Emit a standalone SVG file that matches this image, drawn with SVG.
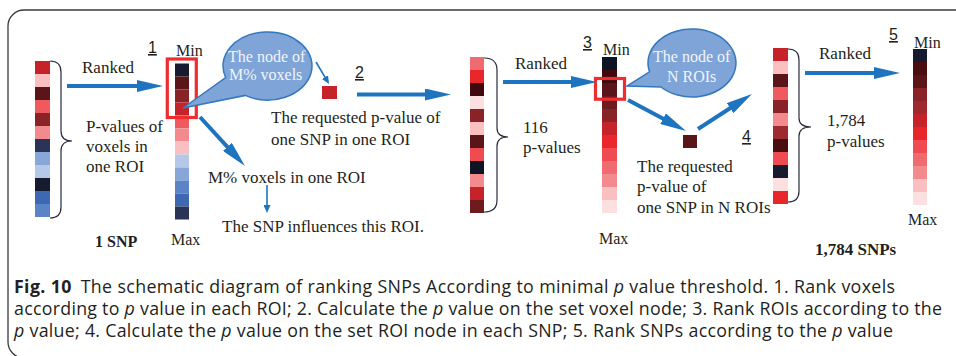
<svg xmlns="http://www.w3.org/2000/svg" width="956" height="356" viewBox="0 0 956 356">
<style>
.t{font-family:"Liberation Serif","Times New Roman",serif;font-size:17px;fill:#231F20}
.m{font-family:"Liberation Serif","Times New Roman",serif;font-size:16px;fill:#231F20}
.b{font-family:"Liberation Serif","Times New Roman",serif;font-size:16px;font-weight:700;fill:#231F20}
.bt{font-family:"Liberation Serif","Times New Roman",serif;font-size:16px;fill:#F2F5FB}
.n{font-family:"Liberation Sans",Arial,sans-serif;font-size:16px;fill:#231F20;text-decoration:underline}
.cap{font-family:"Open Sans","Noto Sans",sans-serif;font-size:17.8px;fill:#231F20}
.thick{stroke:#1F74C0;stroke-width:4;fill:none;marker-end:url(#ah)}
.thin{stroke:#1F74C0;stroke-width:1.6;fill:none;marker-end:url(#ahs)}
.brace{stroke:#2A2A3A;stroke-width:1.2;fill:none}
.bubble{fill:#7FA4D7;stroke:#3478BD;stroke-width:1.5}
.box{fill:none;stroke:#EE2D2F;stroke-width:3.2}
.navy0{fill:#0F1424}.navy{fill:#161B2F}.navy2{fill:#2A3457}
.blue1{fill:#3E69B2}.blue2{fill:#5B83C6}.blue3{fill:#88A6D7}.blue4{fill:#B6C8E8}
.mar0{fill:#3F0A0D}.mar1{fill:#4A0E10}.mar2{fill:#5A1519}.mar3{fill:#6E1B1F}
.dr1{fill:#8A2328}.dr2{fill:#9E2A30}.r1{fill:#C52229}.r2{fill:#E8262B}
.s1{fill:#F04A52}.s2{fill:#EF5A5E}.s3{fill:#F06B6F}
.p1{fill:#F38B8E}.p2{fill:#F9BFC1}.p3{fill:#FCE0E1}
</style>
<defs>
<marker id="ah" markerUnits="userSpaceOnUse" markerWidth="26" markerHeight="12" viewBox="0 0 26 12" refX="4" refY="6" orient="auto"><path d="M0,0 L26,6 L0,12 Z" fill="#1F74C0"/></marker>
<marker id="ahs" markerUnits="userSpaceOnUse" markerWidth="8" markerHeight="7" viewBox="0 0 8 7" refX="2" refY="3.5" orient="auto"><path d="M0,0 L8,3.5 L0,7 Z" fill="#1F74C0"/></marker>
</defs>
<rect x="0" y="0" width="956" height="356" fill="#FFFFFF"/>
<path d="M956,10 H24 A16,16 0 0 0 8,26 V342 A16,16 0 0 0 24,358" fill="none" stroke="#3A3A3A" stroke-width="1.3"/>

<g id="strip-voxels" transform="translate(35,61)">
<rect class="r1" x="0" y="0" width="15" height="13"/><rect class="p2" x="0" y="13" width="15" height="13"/><rect class="mar2" x="0" y="26" width="15" height="13"/><rect class="s2" x="0" y="39" width="15" height="13"/><rect class="dr1" x="0" y="52" width="15" height="13"/><rect class="p1" x="0" y="65" width="15" height="13"/><rect class="navy2" x="0" y="78" width="15" height="13"/><rect class="blue3" x="0" y="91" width="15" height="13"/><rect class="blue4" x="0" y="104" width="15" height="13"/><rect class="navy" x="0" y="117" width="15" height="13"/><rect class="blue1" x="0" y="130" width="15" height="13"/><rect class="blue2" x="0" y="143" width="15" height="13"/>
</g>
<g id="label-voxels">
<path class="brace" d="M50,61 Q61,61 61,72 V131 Q61,141 72,141 Q61,141 61,151 V207 Q61,218 50,218"/>
<text class="t" x="86" y="132">P-values of</text>
<text class="t" x="86" y="152">voxels in</text>
<text class="t" x="86" y="172">one ROI</text>
<text class="t" x="82" y="73">Ranked</text>
<text class="b" x="95" y="247">1 SNP</text>
</g>

<g id="strip-ranked-voxels">
<text class="n" x="148" y="53">1</text>
<text class="m" x="176" y="56">Min</text>
<text class="m" x="171" y="245">Max</text>
<g transform="translate(175,63.5)">
<rect class="navy" x="0" y="0" width="14" height="13"/><rect class="mar2" x="0" y="13" width="14" height="13"/><rect class="dr1" x="0" y="26" width="14" height="13"/><rect class="r1" x="0" y="39" width="14" height="13"/><rect class="s2" x="0" y="52" width="14" height="13"/><rect class="p1" x="0" y="65" width="14" height="13"/><rect class="p2" x="0" y="78" width="14" height="13"/><rect class="blue4" x="0" y="91" width="14" height="13"/><rect class="blue3" x="0" y="104" width="14" height="13"/><rect class="blue2" x="0" y="117" width="14" height="13"/><rect class="blue1" x="0" y="130" width="14" height="13"/><rect class="navy2" x="0" y="143" width="14" height="13"/>
</g>
<rect class="box" x="167.3" y="59" width="29" height="58.5"/>
</g>

<g id="bubble-voxels">
<path class="bubble" d="M225.7,77.6 A44.5,34 0 1 1 245.25,95.4 L183,108 Z"/>
<text class="bt" x="228" y="62">The node of</text>
<text class="bt" x="229" y="80">M% voxels</text>
</g>

<g id="node-roi-pvalue">
<rect class="r1" x="322" y="86" width="15" height="13"/>
<text class="t" x="271" y="123">The requested p-value of</text>
<text class="t" x="271" y="145">one SNP in one ROI</text>
<text class="n" x="355" y="78">2</text>
</g>

<g id="node-m-voxels">
<text class="t" x="208" y="183">M% voxels in one ROI</text>
</g>
<g id="node-influence">
<text class="t" x="222" y="232">The SNP influences this ROI.</text>
</g>

<g id="strip-rois" transform="translate(470,57)">
<rect class="s3" x="0" y="0" width="14" height="13"/><rect class="r2" x="0" y="13" width="14" height="13"/><rect class="mar0" x="0" y="26" width="14" height="13"/><rect class="p3" x="0" y="39" width="14" height="13"/><rect class="dr1" x="0" y="52" width="14" height="13"/><rect class="p2" x="0" y="65" width="14" height="13"/><rect class="mar2" x="0" y="78" width="14" height="13"/><rect class="s1" x="0" y="91" width="14" height="13"/><rect class="navy0" x="0" y="104" width="14" height="13"/><rect class="p1" x="0" y="117" width="14" height="13"/><rect class="r1" x="0" y="130" width="14" height="13"/><rect class="mar3" x="0" y="143" width="14" height="13"/>
</g>
<g id="label-rois">
<path class="brace" d="M484,58 Q497,58 497,70 V128 Q497,137 508,137 Q497,137 497,146 V200 Q497,212 484,212"/>
<text class="t" x="515" y="69">Ranked</text>
<text class="t" x="523" y="133">116</text>
<text class="t" x="523" y="153">p-values</text>
</g>

<g id="strip-ranked-rois">
<text class="n" x="583" y="48">3</text>
<text class="m" x="603" y="55">Min</text>
<text class="m" x="599" y="244">Max</text>
<g transform="translate(602,57)">
<rect class="navy0" x="0" y="0" width="15" height="13"/><rect class="mar0" x="0" y="13" width="15" height="13"/><rect class="mar2" x="0" y="26" width="15" height="13"/><rect class="mar3" x="0" y="39" width="15" height="13"/><rect class="dr1" x="0" y="52" width="15" height="13"/><rect class="r1" x="0" y="65" width="15" height="13"/><rect class="r2" x="0" y="78" width="15" height="13"/><rect class="s1" x="0" y="91" width="15" height="13"/><rect class="s3" x="0" y="104" width="15" height="13"/><rect class="p1" x="0" y="117" width="15" height="13"/><rect class="p2" x="0" y="130" width="15" height="13"/><rect class="p3" x="0" y="143" width="15" height="13"/>
</g>
<rect class="box" x="595.5" y="78.5" width="29" height="20.7"/>
</g>

<g id="bubble-rois">
<path class="bubble" d="M649.5,71.8 A44,34 0 1 1 660.9,87 L627,86 Z"/>
<text class="bt" x="653" y="62">The node of</text>
<text class="bt" x="667" y="82">N ROIs</text>
</g>

<g id="node-snp-pvalue">
<rect class="mar2" x="683" y="135" width="14" height="13"/>
<text class="n" x="742" y="142">4</text>
<text class="t" x="637" y="172">The requested</text>
<text class="t" x="637" y="192">p-value of</text>
<text class="t" x="637" y="213">one SNP in N ROIs</text>
</g>

<g id="strip-snps" transform="translate(773,48)">
<rect class="r1" x="0" y="0" width="15" height="13"/><rect class="p2" x="0" y="13" width="15" height="13"/><rect class="mar2" x="0" y="26" width="15" height="13"/><rect class="s2" x="0" y="39" width="15" height="13"/><rect class="dr1" x="0" y="52" width="15" height="13"/><rect class="p1" x="0" y="65" width="15" height="13"/><rect class="dr2" x="0" y="78" width="15" height="13"/><rect class="mar1" x="0" y="91" width="15" height="13"/><rect class="s1" x="0" y="104" width="15" height="13"/><rect class="navy" x="0" y="117" width="15" height="13"/><rect class="p3" x="0" y="130" width="15" height="13"/><rect class="r2" x="0" y="143" width="15" height="13"/>
</g>
<g id="label-snps">
<path class="brace" d="M788,49 Q799,49 799,60 V118 Q799,127 811,127 Q799,127 799,136 V191 Q799,202 788,202"/>
<text class="t" x="819" y="59">Ranked</text>
<text class="t" x="827" y="126">1,784</text>
<text class="t" x="827" y="147">p-values</text>
<text class="b" x="815" y="255" style="font-size:17px">1,784 SNPs</text>
</g>

<g id="strip-ranked-snps">
<text class="n" x="889" y="40">5</text>
<text class="m" x="914" y="48">Min</text>
<text class="m" x="908" y="225">Max</text>
<g transform="translate(913,49)">
<rect class="navy" x="0" y="0" width="14" height="13"/><rect class="mar1" x="0" y="13" width="14" height="13"/><rect class="mar2" x="0" y="26" width="14" height="13"/><rect class="dr1" x="0" y="39" width="14" height="13"/><rect class="dr2" x="0" y="52" width="14" height="13"/><rect class="r1" x="0" y="65" width="14" height="13"/><rect class="r2" x="0" y="78" width="14" height="13"/><rect class="s1" x="0" y="91" width="14" height="13"/><rect class="s3" x="0" y="104" width="14" height="13"/><rect class="p1" x="0" y="117" width="14" height="13"/><rect class="p2" x="0" y="130" width="14" height="13"/><rect class="p3" x="0" y="143" width="14" height="13"/>
</g>
</g>

<g id="connectors">
<line class="thick" x1="67" y1="86" x2="141" y2="86"/>
<line class="thick" x1="200" y1="117" x2="230.1" y2="149.8"/>
<line class="thin" x1="316" y1="62" x2="326" y2="78.8"/>
<line class="thin" x1="267" y1="185" x2="267" y2="207"/>
<line class="thick" x1="357" y1="94.5" x2="429" y2="94.5"/>
<line class="thick" x1="503" y1="82" x2="575" y2="82"/>
<line class="thick" x1="628" y1="100" x2="666.6" y2="120.6"/>
<line class="thick" x1="698" y1="129" x2="733.5" y2="106"/>
<line class="thick" x1="805" y1="73" x2="878" y2="73"/>
</g>

<g id="caption">
<text class="cap" x="14" y="293" textLength="881"><tspan font-weight="700">Fig. 10</tspan><tspan dx="9">The schematic diagram of ranking SNPs According to minimal </tspan><tspan font-style="italic">p</tspan> value threshold. 1. Rank voxels</text>
<text class="cap" x="14" y="315" textLength="928">according to <tspan font-style="italic">p</tspan> value in each ROI; 2. Calculate the <tspan font-style="italic">p</tspan> value on the set voxel node; 3. Rank ROIs according to the</text>
<text class="cap" x="14" y="337" textLength="879"><tspan font-style="italic">p</tspan> value; 4. Calculate the <tspan font-style="italic">p</tspan> value on the set ROI node in each SNP; 5. Rank SNPs according to the <tspan font-style="italic">p</tspan> value</text>
</g>
</svg>
